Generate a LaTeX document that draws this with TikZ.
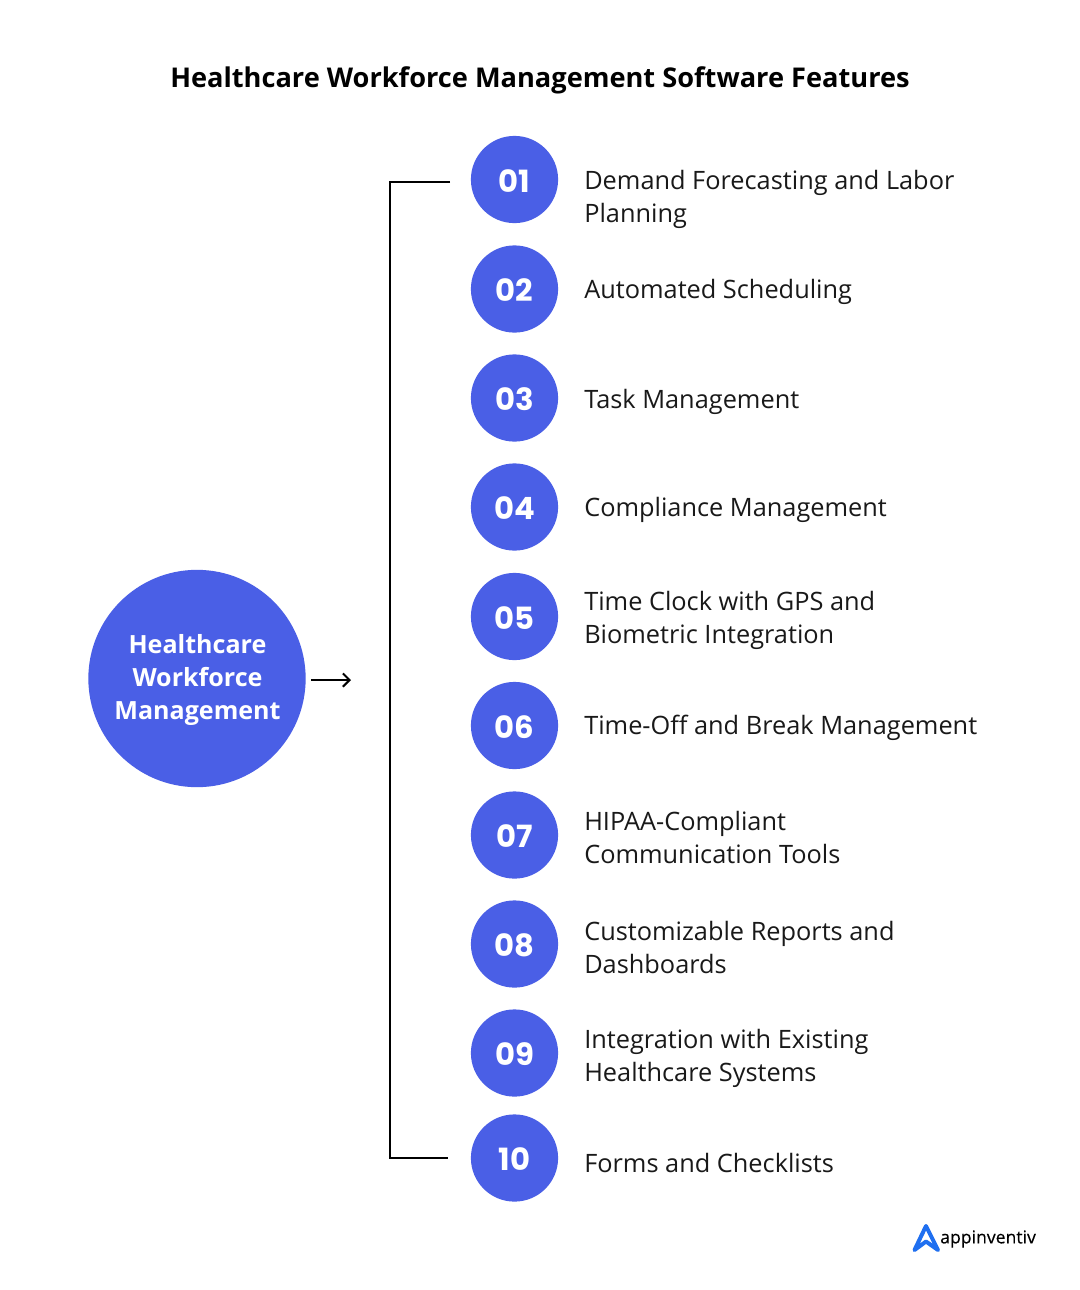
\documentclass[tikz,border=0pt]{standalone}
\usepackage{fontspec}
\setmainfont{Open Sans}
\newfontfamily\numfont{Poppins}[BoldFont={Poppins Bold}]
\usetikzlibrary{arrows.meta}
\definecolor{cblue}{HTML}{4A5FE6}
\definecolor{logoblue}{HTML}{1F6FF0}
\tikzset{
  num/.style={circle,fill=cblue,text=white,minimum size=65.4pt,inner sep=0pt,text height=18.8pt,text depth=0pt,font=\numfont\fontsize{23}{23}\selectfont\bfseries},
  lab/.style={anchor=west,align=left,inner sep=0pt,text=black!90,font=\fontsize{19}{24.75}\selectfont},
  line/.style={draw=black,line width=1.5pt},
}
\begin{document}
\begin{tikzpicture}[x=0.75pt,y=-0.75pt]
\useasboundingbox (0,0) rectangle (1080,1290);
\fill[white] (0,0) rectangle (1080,1290);
\node[font=\fontsize{20.4}{24}\selectfont\bfseries,inner sep=0pt] (title) at (540,80) {Healthcare Workforce Management Software Features};
\node[circle,fill=cblue,minimum size=163pt,inner sep=0pt] (main) at (197,678.5) {};
\node[text=white,inner sep=0pt,align=center,font=\fontsize{18.8}{24.75}\selectfont\bfseries] (mainlabel) at (197.5,679.5) {Healthcare\\Workforce\\Management};
\foreach \n/\y in {01/179.5,02/289,03/398,04/507,05/616.5,06/725.5,07/835,08/944,09/1053,10/1158}{
  \node[num] (c\n) at (514.5,\y) {\n};
}
\node[lab] (t01) at (584,199) {Demand Forecasting and Labor\\Planning};
\node[lab] (t02) at (584,292) {Automated Scheduling};
\node[lab] (t03) at (584,402) {Task Management};
\node[lab] (t04) at (584,510) {Compliance Management};
\node[lab] (t05) at (584,620.5) {Time Clock with GPS and\\Biometric Integration};
\node[lab] (t06) at (584,728) {Time-Off and Break Management};
\node[lab] (t07) at (584,837.5) {HIPAA-Compliant\\Communication Tools};
\node[lab] (t08) at (584,947) {Customizable Reports and\\Dashboards};
\node[lab] (t09) at (584,1058) {Integration with Existing\\Healthcare Systems};
\node[lab] (t10) at (584,1163) {Forms and Checklists};
\coordinate (a1) at (311,680);
\coordinate (a2) at (351,680);
\draw[line,-{Straight Barb[length=5pt,width=10pt]}] (a1) -- (a2);
\coordinate (b1) at (450,182);
\coordinate (b2) at (390,182);
\coordinate (b3) at (390,1158);
\coordinate (b4) at (448,1158);
\draw[line] (b1) -- (b2) -- (b3) -- (b4);
% logo
\draw[logoblue,line width=3pt,line join=round,line cap=round] (914.5,1250) -- (926,1226) -- (938,1250) -- (926,1241.5) -- cycle;
\node[anchor=west,inner sep=0pt,font=\fontsize{13.2}{14}\selectfont\addfontfeature{FakeBold=0.3}] (logo) at (940,1239) {appinventiv};
\end{tikzpicture}
\end{document}
